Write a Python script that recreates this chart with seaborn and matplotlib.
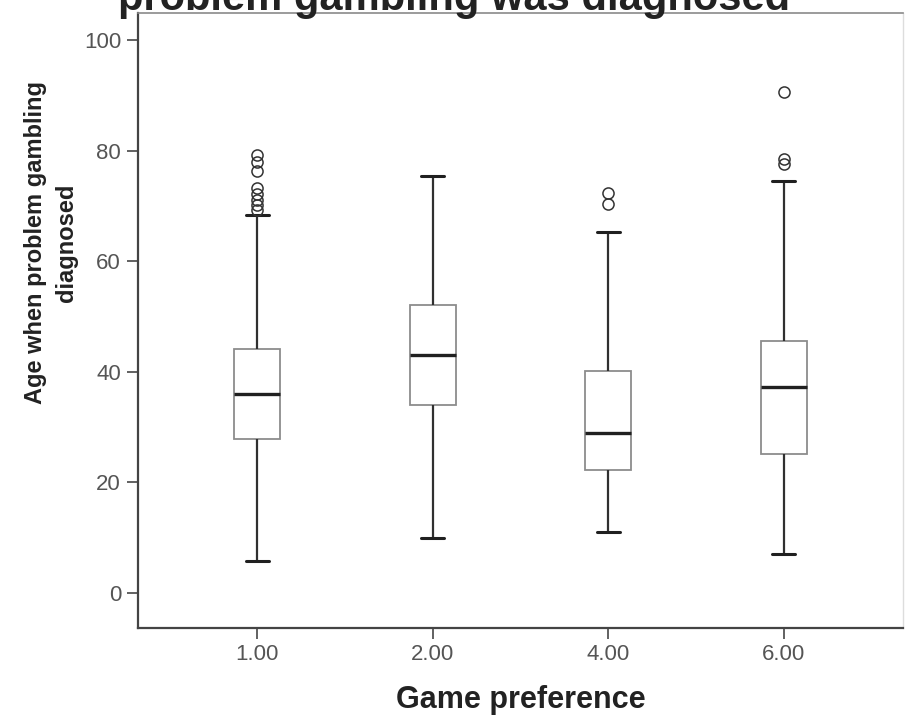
import numpy as np
import pandas as pd
import matplotlib
matplotlib.use("Agg")
import matplotlib.pyplot as plt
import seaborn as sns

# Game preference groups and the age-at-diagnosis summary for each
categories = ["1.00", "2.00", "4.00", "6.00"]
whisker_low = [5.8, 10.0, 11.0, 7.0]
q1 = [27.8, 34.0, 22.3, 25.2]
median = [36.0, 43.0, 29.0, 37.2]
q3 = [44.1, 52.0, 40.2, 45.5]
whisker_high = [68.3, 75.4, 65.3, 74.5]
outliers = [
    [79.2, 78.0, 76.3, 73.3, 72.1, 71.0, 70.1, 69.2],
    [],
    [72.4, 70.4],
    [90.7, 78.5, 77.5],
]


def group_sample(lo, a, m, b, hi, extra, k=20):
    """Ages whose quartiles, median and whisker ends equal the summary."""
    return [lo] + [a] * k + [m] * k + [b] * k + [hi] + list(extra)


rows = []
for i, cat in enumerate(categories):
    vals = group_sample(whisker_low[i], q1[i], median[i], q3[i],
                        whisker_high[i], outliers[i])
    rows += [(cat, v) for v in vals]
df = pd.DataFrame(rows, columns=["pref", "age"])

sns.set_theme(style="white")
plt.rcParams["font.family"] = ["Liberation Sans", "DejaVu Sans"]

fig = plt.figure(figsize=(9.06, 7.24), dpi=100)
ax = fig.add_axes([0.152, 0.133, 0.845, 0.849])

sns.boxplot(
    data=df, x="pref", y="age", order=categories, ax=ax,
    width=0.26, whis=1.5, color="white",
    boxprops=dict(facecolor="white", edgecolor="#8c8c8c", linewidth=1.3),
    whiskerprops=dict(color="#303030", linewidth=1.6),
    capprops=dict(color="#202020", linewidth=2.2),
    medianprops=dict(color="#202020", linewidth=2.4),
    flierprops=dict(marker="o", markerfacecolor="none",
                    markeredgecolor="#333333", markersize=8,
                    markeredgewidth=1.1),
)

ax.set_xlim(-0.68, 3.68)
ax.set_ylim(-6.3, 104.9)
ax.set_yticks([0, 20, 40, 60, 80, 100])

ax.tick_params(axis="both", which="major", direction="out", length=8,
               width=1.3, color="#555555", labelsize=16,
               labelcolor="#555555", left=True, bottom=True, pad=4)

for side in ("left", "bottom"):
    ax.spines[side].set_color("#444444")
    ax.spines[side].set_linewidth(1.6)
ax.spines["top"].set_color("#8a8a8a")
ax.spines["top"].set_linewidth(1.2)
ax.spines["right"].set_color("#dddddd")
ax.spines["right"].set_linewidth(1.0)

ax.set_xlabel("Game preference", fontsize=22, fontweight="bold",
              color="#222222", labelpad=14)
ax.set_ylabel("Age when problem gambling\ndiagnosed", fontsize=17,
              fontweight="bold", color="#222222", linespacing=1.45)
ax.yaxis.set_label_coords(-0.078, 0.626)

fig.text(0.501, 1 - 10 / 724, "problem gambling was diagnosed",
         ha="center", va="baseline", fontsize=30, fontweight="bold",
         color="#222222")

fig.savefig("out.png", dpi=100, facecolor="white")
